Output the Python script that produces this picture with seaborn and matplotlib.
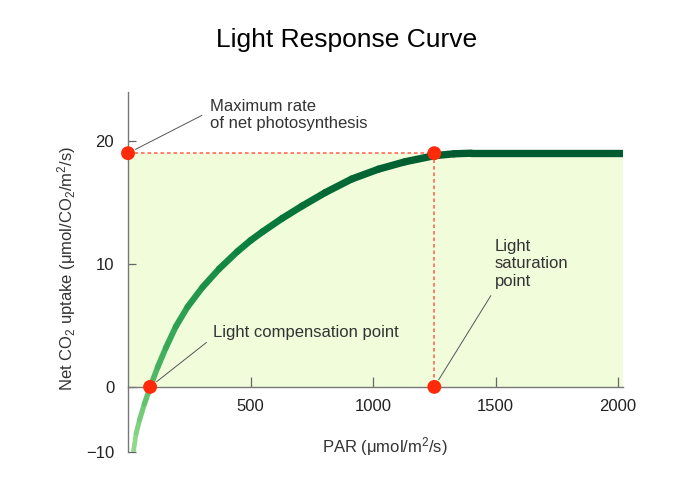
import numpy as np
import pandas as pd
import matplotlib
matplotlib.use("Agg")
import matplotlib.pyplot as plt
import seaborn as sns
from matplotlib.collections import LineCollection
from matplotlib.colors import LinearSegmentedColormap

# values
par = [22, 33, 47, 67, 91, 121, 155, 195, 243, 304, 372, 446, 500, 548, 629, 710,
       805, 913, 1022, 1130, 1251, 1330, 1400, 2020]
uptake = [-10, -7.2, -5.1, -2.6, 0.0, 1.6, 3.2, 4.9, 6.5, 8.1, 9.6, 11.0, 11.9, 12.6,
          13.7, 14.7, 15.8, 16.9, 17.7, 18.3, 18.8, 18.95, 19.0, 19.0]

max_rate = 19
comp_par = 90
sat_par = 1250

key_par = [0, sat_par, sat_par, comp_par]
key_uptake = [max_rate, max_rate, 0, 0]

x_ticks = [500, 1000, 1500, 2000]
y_ticks = [-10, 0, 10, 20]

sns.set_style("ticks")
plt.rcParams['font.family'] = ['Liberation Sans', 'DejaVu Sans']
plt.rcParams['mathtext.fontset'] = 'custom'
plt.rcParams['mathtext.rm'] = 'Liberation Sans'
plt.rcParams['mathtext.it'] = 'Liberation Sans'

fig = plt.figure(figsize=(6.89, 4.88), dpi=100)
ax = fig.add_axes([0.1858, 0.0744, 0.7184, 0.7377])

# negative part of the y axis is squeezed in the original drawing
squeeze = 0.527
def fwd(y):
    y = np.asarray(y, dtype=float)
    return np.where(y < 0, y * squeeze, y)
def inv(y):
    y = np.asarray(y, dtype=float)
    return np.where(y < 0, y / squeeze, y)
ax.set_yscale('function', functions=(fwd, inv))

ax.set_xlim(0, 2020)
ax.set_ylim(-10, 24)

# shaded area between 0 and the max rate
ax.fill_between([0, 2020], 0, max_rate, color='#f1fcdb', lw=0, zorder=0)

# dotted guides
guide = dict(color='#ff7563', lw=1.3, ls=(0, (2, 1.6)), zorder=2)
ax.plot([0, sat_par], [max_rate, max_rate], **guide)
ax.plot([sat_par, sat_par], [max_rate, 0], **guide)

# curve with a green gradient getting darker and thicker
pts = np.column_stack([par, uptake])
segs = np.stack([pts[:-1], pts[1:]], axis=1)
mid = (np.array(uptake[:-1]) + np.array(uptake[1:])) / 2
frac = (mid + 10) / 29.0
cmap = LinearSegmentedColormap.from_list('lr', ['#98dd90', '#6cc872', '#34a656', '#0b803f', '#005c30'])
lc = LineCollection(segs, colors=cmap(frac), linewidths=3.3 + 2.0 * frac,
                    capstyle='round', joinstyle='round', zorder=3)
ax.add_collection(lc)

# red key points
df = pd.DataFrame({'par': key_par, 'uptake': key_uptake})
sns.scatterplot(data=df, x='par', y='uptake', ax=ax, s=100, color='#ff2a0a',
                edgecolor='none', zorder=5, clip_on=False)

# annotations
txt = dict(fontsize=12, color='#333333', ha='left', va='center', linespacing=1.2)
arr = dict(arrowstyle='-', color='#555555', lw=0.7)
ax.annotate('Maximum rate\nof net photosynthesis', xy=(0, max_rate), xytext=(335, 22.1),
            arrowprops=dict(arr, relpos=(0, 0.62), shrinkA=4, shrinkB=6), **txt)
ax.annotate('Light compensation point', xy=(comp_par, 0), xytext=(347, 4.4),
            arrowprops=dict(arr, relpos=(0, 0.2), shrinkA=3, shrinkB=6), **txt)
ax.annotate('Light\nsaturation\npoint', xy=(sat_par, 0), xytext=(1498, 10.0),
            arrowprops=dict(arr, relpos=(0, 0.0), shrinkA=3, shrinkB=6), **txt)

# axes styling
ax.spines['top'].set_visible(False)
ax.spines['right'].set_visible(False)
ax.spines['bottom'].set_position(('data', 0))
for s in ['left', 'bottom']:
    ax.spines[s].set_color('#777777')
    ax.spines[s].set_linewidth(1.0)

ax.set_xticks(x_ticks)
ax.set_yticks(y_ticks)
ax.set_yticklabels([str(v).replace('-', '\u2212') for v in y_ticks])
ax.tick_params(axis='x', direction='in', length=7, width=0.9, color='#666666',
               labelsize=12, pad=9, labelcolor='#222222')
ax.tick_params(axis='y', direction='in', length=6, width=0.9, color='#666666',
               labelsize=12, pad=10, labelcolor='#222222')
ax.minorticks_off()

ax.set_xlabel('PAR (\u03bcmol/m$^2$/s)', fontsize=12, color='#333333')
ax.set_ylabel('Net CO$_2$ uptake (\u03bcmol/CO$_2$/m$^2$/s)', fontsize=12, color='#333333')
ax.xaxis.set_label_coords(0.519, 0.046)
ax.yaxis.set_label_coords(-0.101, 0.51)

fig.text(0.503, 0.918, 'Light Response Curve', fontsize=19, color='black',
         ha='center', va='center')

fig.savefig('out.png', dpi=100)
